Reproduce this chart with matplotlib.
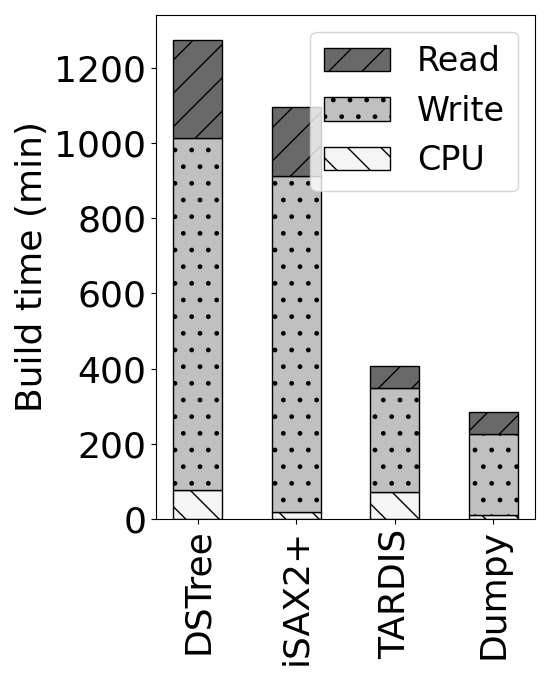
import numpy as np
import matplotlib.pyplot as plt

# build time breakdown (min)
methods = ["DSTree", "iSAX2+", "TARDIS", "Dumpy"]
cpu = [78, 18, 71, 11]
write = [935, 895, 278, 215]
read = [260, 183, 57, 58]

fig = plt.figure(figsize=(5.5, 6.8), dpi=100)
ax = fig.add_axes([156 / 550, 1 - 519 / 680, 379 / 550, 504 / 680])

x = np.arange(len(methods))
w = 0.5
b1 = ax.bar(x, cpu, w, color="whitesmoke", edgecolor="black", hatch="\\", label="CPU")
b2 = ax.bar(x, write, w, bottom=cpu, color="silver", edgecolor="black", hatch=".", label="Write")
bot = np.array(cpu) + np.array(write)
b3 = ax.bar(x, read, w, bottom=bot, color="dimgray", edgecolor="black", hatch="/", label="Read")

ax.set_xticks(x)
ax.set_xticklabels(methods, rotation=90, fontsize=26)
ax.set_ylabel("Build time (min)", fontsize=26)
ax.set_yticks([0, 200, 400, 600, 800, 1000, 1200])
ax.tick_params(axis="y", labelsize=26)
ax.set_ylim(0, 1340)

ax.legend([b3, b2, b1], ["Read", "Write", "CPU"], loc="upper right", fontsize=24)

fig.savefig("out.png")
